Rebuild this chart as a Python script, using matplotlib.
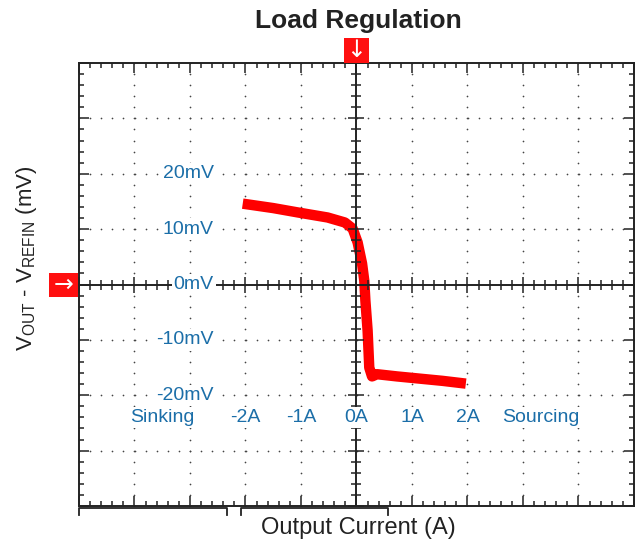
import numpy as np
import matplotlib
matplotlib.use("Agg")
import matplotlib.pyplot as plt
from matplotlib.patches import Rectangle
import matplotlib.transforms as mtransforms

plt.rcParams['font.family'] = ['Liberation Sans', 'DejaVu Sans']

# trace (A, mV)
current = [-2.05, -1.5, -1.05, -0.52, -0.21, -0.07, 0.02, 0.1, 0.14, 0.16, 0.2, 0.23,
           0.28, 0.37, 0.73, 1.14, 1.55, 1.97]
dv = [14.6, 13.8, 13.0, 12.1, 11.2, 10.1, 7.6, 3.8, 0.7, -2.9, -8.3, -15.0,
      -16.6, -16.2, -16.6, -17.0, -17.4, -17.9]

mv_vals = [20, 10, 0, -10, -20]
mv_labels = ['20mV', '10mV', '0mV', '-10mV', '-20mV']
amp_vals = [-2, -1, 0, 1, 2]
amp_labels = ['-2A', '-1A', '0A', '1A', '2A']

blue = '#1b6ea8'
W, H = 642, 543
fig = plt.figure(figsize=(W / 100, H / 100), dpi=100)
rect = [79 / W, 1 - 506 / H, 555 / W, 443 / H]

# border axes
ax = fig.add_axes(rect)
ax.set_xlim(-5, 5)
ax.set_ylim(-40, 40)
ax.set_xticks(np.arange(-5, 6, 1))
ax.set_xticks(np.arange(-5, 5.01, 0.2), minor=True)
ax.set_yticks(np.arange(-40, 41, 10))
ax.set_yticks(np.arange(-40, 40.1, 2), minor=True)
ax.tick_params(which='both', direction='in', top=True, right=True,
               labelbottom=False, labelleft=False, width=1.1, color='#222')
ax.tick_params(which='major', length=7)
ax.tick_params(which='minor', length=3.6)
for s in ax.spines.values():
    s.set_linewidth(1.4)
    s.set_color('#222')

# dotted scope grid
minor_x = np.arange(-5, 5.01, 0.2)
minor_y = np.arange(-40, 40.1, 2)
for gx in range(-4, 5):
    if gx != 0:
        ax.scatter(np.full(len(minor_y), gx), minor_y, s=1.5, color='#444', lw=0, zorder=1)
for gy in range(-30, 31, 10):
    if gy != 0:
        ax.scatter(minor_x, np.full(len(minor_x), gy), s=1.5, color='#444', lw=0, zorder=1)

ax.plot(current, dv, color='#ff0000', lw=7.5, solid_joinstyle='round',
        solid_capstyle='butt', zorder=3)

# centre cross-hair
ax2 = fig.add_axes(rect)
ax2.set_xlim(-5, 5)
ax2.set_ylim(-40, 40)
ax2.patch.set_visible(False)
ax2.spines['left'].set_position(('data', 0))
ax2.spines['bottom'].set_position(('data', 0))
ax2.spines['top'].set_visible(False)
ax2.spines['right'].set_visible(False)
for s in ['left', 'bottom']:
    ax2.spines[s].set_linewidth(1.4)
    ax2.spines[s].set_color('#222')
ax2.set_xticks(np.arange(-5, 6, 1))
ax2.set_xticks(minor_x, minor=True)
ax2.set_yticks(np.arange(-40, 41, 10))
ax2.set_yticks(minor_y, minor=True)
ax2.tick_params(which='both', direction='inout', labelbottom=False, labelleft=False,
                width=1.1, color='#222')
ax2.tick_params(which='major', length=12)
ax2.tick_params(which='minor', length=7)

box = dict(facecolor='white', edgecolor='none', pad=1.5)
for v, lab in zip(mv_vals, mv_labels):
    ax2.text(-2.57, v, lab, color=blue, fontsize=14, ha='right', va='center',
             bbox=box, zorder=5)
for a, lab in zip(amp_vals, amp_labels):
    ax2.text(a, -24.0, lab, color=blue, fontsize=14, ha='center', va='center',
             bbox=box, zorder=5)
ax2.text(-3.5, -24.0, 'Sinking', color=blue, fontsize=14, ha='center', va='center',
         bbox=box, zorder=5)
ax2.text(3.32, -24.0, 'Sourcing', color=blue, fontsize=14, ha='center', va='center',
         bbox=box, zorder=5)

# bracket under the bottom border
tr = mtransforms.blended_transform_factory(ax.transData, ax.transAxes)
for x0, x1 in [(-5, -2.33), (-2.08, 0.57)]:
    ax.plot([x0, x0, x1, x1], [-0.02, -0.004, -0.004, -0.02], transform=tr,
            color='#222', lw=1.3, clip_on=False)

# red markers
fig.add_artist(Rectangle((344 / W, 1 - 63 / H), 25 / W, 25 / H,
                         transform=fig.transFigure, color='#ff1010', lw=0))
fig.text(356.5 / W, 1 - 50 / H, '\u2193', color='white', fontsize=17,
         ha='center', va='center', family=['DejaVu Sans'])
fig.add_artist(Rectangle((49 / W, 1 - 297 / H), 29 / W, 24 / H,
                         transform=fig.transFigure, color='#ff1010', lw=0))
fig.text(63.5 / W, 1 - 285 / H, '\u2192', color='white', fontsize=17,
         ha='center', va='center', family=['DejaVu Sans'])

fig.text(358 / W, 1 - 21 / H, 'Load Regulation', fontsize=19, fontweight='bold',
         color='#222', ha='center', va='center')
fig.text(358 / W, 1 - 528 / H, 'Output Current (A)', fontsize=17, color='#222',
         ha='center', va='center')
fig.text(27 / W, 1 - 258 / H, r'V$_\mathregular{OUT}$ - V$_\mathregular{REFIN}$ (mV)',
         fontsize=16, color='#222', rotation=90, ha='center', va='center')

fig.savefig('out.png', dpi=100)
